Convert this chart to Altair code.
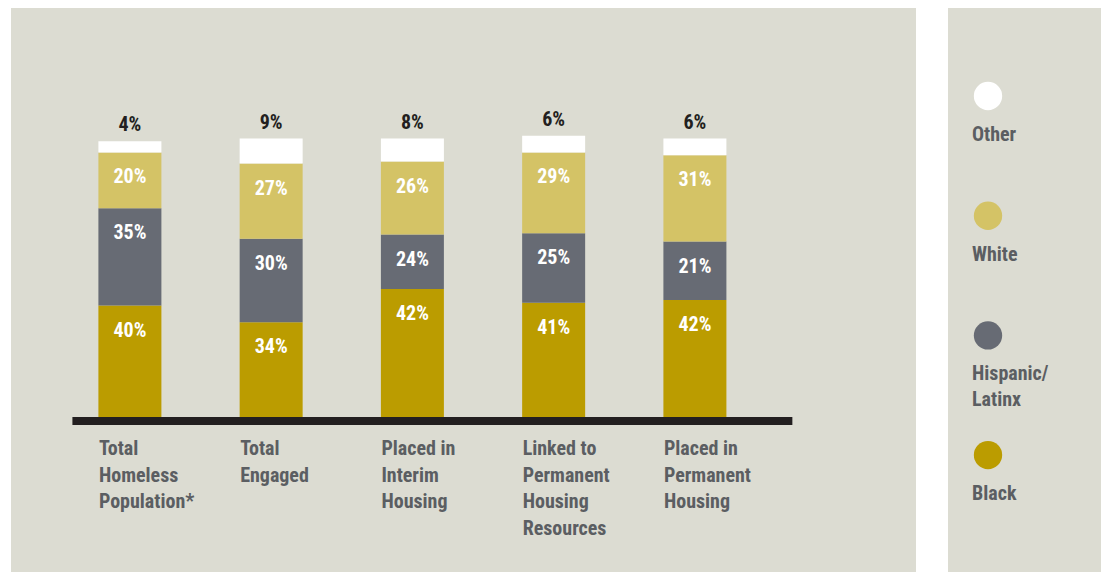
import altair as alt
import pandas as pd

# ---------------- data ----------------
categories = [
    "Total\nHomeless\nPopulation*",
    "Total\nEngaged",
    "Placed in\nInterim\nHousing",
    "Linked to\nPermanent\nHousing\nResources",
    "Placed in\nPermanent\nHousing",
]
groups = ["Black", "Hispanic/Latinx", "White", "Other"]  # bottom -> top
legend_order = ["Other", "White", "Hispanic/\nLatinx", "Black"]

# printed labels (percent)
black_lbl = [40, 34, 42, 41, 42]
hisp_lbl = [35, 30, 24, 25, 21]
white_lbl = [20, 27, 26, 29, 31]
other_lbl = [4, 9, 8, 6, 6]

# segment heights as drawn in the picture (percent)
black_h = [40, 34, 46, 41, 42]
hisp_h = [35, 30, 19.5, 25, 21]
white_h = [20, 27, 26.2, 29, 31]
other_h = [4, 9, 8.3, 6, 6]

colors = {"Black": "#bb9c00", "Hispanic/Latinx": "#676b74", "White": "#d4c366", "Other": "#ffffff"}
legend_colors = ["#ffffff", "#d4c366", "#676b74", "#bb9c00"]

PANEL = "#dcdcd2"
FONT = "Roboto Condensed, Fira Sans Condensed, DejaVu Sans Condensed, sans-serif"
LABEL_GREY = "#5b5e62"
DARK = "#231f20"

# ---------------- table ----------------
rows = []
heights = {"Black": black_h, "Hispanic/Latinx": hisp_h, "White": white_h, "Other": other_h}
labels = {"Black": black_lbl, "Hispanic/Latinx": hisp_lbl, "White": white_lbl, "Other": other_lbl}
for i, cat in enumerate(categories):
    base = 0.0
    for g in groups:
        h = heights[g][i]
        rows.append({"idx": i, "cat": cat, "group": g, "y0": base, "y1": base + h,
                     "label": f"{labels[g][i]}%"})
        base += h
df = pd.DataFrame(rows)
cat_df = pd.DataFrame({"idx": list(range(len(categories))), "cat": categories,
                       "zero": [0] * len(categories)})
axis_df = pd.DataFrame({"x0": [-0.407], "x1": [4.69], "zero": [0]})

# ---------------- geometry ----------------
W, H = 905, 564
STEP = 141.25
C0 = 118.9          # first bar center in view px
BASE = 409.0        # baseline y (view px from top)
PXU = 2.785         # px per percent

xs = alt.Scale(domain=[-C0 / STEP, (W - C0) / STEP], nice=False, zero=False, padding=0)
ys = alt.Scale(domain=[-(H - BASE) / PXU, BASE / PXU], nice=False, zero=False, padding=0)

bars = alt.Chart(df).mark_bar(size=63).encode(
    x=alt.X("idx:Q", scale=xs, axis=None),
    y=alt.Y("y0:Q", scale=ys, axis=None),
    y2="y1:Q",
    color=alt.Color("group:N", scale=alt.Scale(domain=list(colors.keys()), range=list(colors.values())), legend=None),
)

inner = alt.Chart(df).transform_filter(alt.datum.group != "Other").mark_text(
    font=FONT, fontSize=20, fontWeight="bold", color="white", baseline="middle", dy=25
).encode(x=alt.X("idx:Q", scale=xs, axis=None), y=alt.Y("y1:Q", scale=ys, axis=None), text="label:N")

top = alt.Chart(df).transform_filter(alt.datum.group == "Other").mark_text(
    font=FONT, fontSize=20, fontWeight="bold", color=DARK, baseline="middle", dy=-16
).encode(x=alt.X("idx:Q", scale=xs, axis=None), y=alt.Y("y1:Q", scale=ys, axis=None), text="label:N")

baseline = alt.Chart(axis_df).mark_rule(color=DARK, strokeWidth=8, yOffset=4).encode(
    x=alt.X("x0:Q", scale=xs, axis=None), x2="x1:Q", y=alt.Y("zero:Q", scale=ys, axis=None)
)

cat_text = alt.Chart(cat_df).mark_text(
    font=FONT, fontSize=20, fontWeight="bold", color=LABEL_GREY, align="left", baseline="top",
    dx=-31, dy=22, lineBreak="\n", lineHeight=26.5
).encode(x=alt.X("idx:Q", scale=xs, axis=None), y=alt.Y("zero:Q", scale=ys, axis=None), text="cat:N")

main = alt.layer(bars, inner, top, baseline, cat_text).properties(
    width=W, height=H, view=alt.ViewBackground(fill=PANEL, strokeWidth=0)
)

# ---------------- legend panel ----------------
LW = 153
leg_df = pd.DataFrame({"i": list(range(4)), "name": legend_order, "col": legend_colors})
LSTEP = 119.7
L0 = 88.0
lys = alt.Scale(domain=[-L0 / LSTEP, (H - L0) / LSTEP], nice=False, zero=False, reverse=True)

dots = alt.Chart(leg_df).mark_circle(size=804, opacity=1).encode(
    x=alt.value(40), y=alt.Y("i:Q", scale=lys, axis=None),
    color=alt.Color("col:N", scale=None, legend=None),
)
leg_text = alt.Chart(leg_df).mark_text(
    font=FONT, fontSize=20, fontWeight="bold", color=LABEL_GREY, align="left", baseline="top",
    dy=29, lineBreak="\n", lineHeight=26
).encode(x=alt.value(24), y=alt.Y("i:Q", scale=lys, axis=None), text="name:N")

legend = alt.layer(dots, leg_text).properties(
    width=LW, height=H, view=alt.ViewBackground(fill=PANEL, strokeWidth=0)
)

chart = alt.hconcat(main, legend, spacing=32).properties(
    padding={"left": 3, "top": 0, "right": 0, "bottom": 0}, background="white"
).configure_view(strokeWidth=0)

chart.save("out.html", embed_options={"renderer": "svg", "actions": False})
